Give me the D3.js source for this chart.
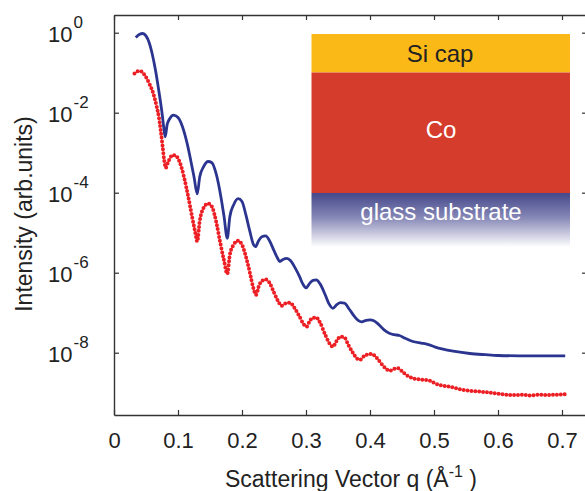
<!DOCTYPE html>
<html>
<head>
<meta charset="utf-8">
<script src="https://cdn.jsdelivr.net/npm/d3@7"></script>
<style>
  body { margin: 0; background: #fff; }
  text { font-family: "Liberation Sans", Arial, sans-serif; fill: #222; }
</style>
</head>
<body>
<div id="chart"></div>
<script>
// blue = simulated curve, red = measured (dotted); intensities kept as log10 values
var qBlue = [0.034,0.040,0.045,0.050,0.055,0.060,0.065,0.070,0.075,0.078,0.080,0.083,0.087,0.093,0.100,0.107,0.114,0.120,0.125,0.130,
  0.134,0.140,0.147,0.153,0.160,0.167,0.172,0.177,0.181,0.187,0.194,0.200,0.206,0.212,0.218,0.221,0.226,0.231,0.237,0.243,
  0.250,0.255,0.259,0.264,0.270,0.276,0.283,0.290,0.295,0.300,0.306,0.311,0.316,0.322,0.330,0.336,0.342,0.348,0.354,0.360,
  0.368,0.376,0.382,0.387,0.394,0.400,0.406,0.414,0.422,0.431,0.438,0.446,0.455,0.467,0.480,0.490,0.502,0.514,0.530,0.556,
  0.580,0.600,0.650,0.705];
var logBlue = [-0.12,-0.04,-0.02,-0.08,-0.25,-0.55,-0.95,-1.45,-2.0,-2.4,-2.6,-2.3,-2.15,-2.06,-2.12,-2.35,-2.75,-3.2,-3.6,-4.03,
  -3.6,-3.35,-3.22,-3.25,-3.55,-4.1,-4.6,-5.14,-4.6,-4.3,-4.15,-4.22,-4.55,-4.95,-5.3,-5.35,-5.2,-5.1,-5.08,-5.2,
  -5.45,-5.62,-5.72,-5.67,-5.64,-5.7,-5.88,-6.1,-6.28,-6.38,-6.26,-6.19,-6.18,-6.28,-6.55,-6.78,-6.89,-6.8,-6.75,-6.76,
  -6.92,-7.1,-7.2,-7.23,-7.19,-7.18,-7.2,-7.3,-7.43,-7.52,-7.55,-7.57,-7.64,-7.72,-7.76,-7.79,-7.86,-7.91,-7.96,-8.02,
  -8.05,-8.07,-8.08,-8.08];

var qRed = [0.032,0.036,0.041,0.046,0.051,0.056,0.061,0.066,0.070,0.073,0.076,0.079,0.081,0.083,0.087,0.092,0.097,0.103,0.110,0.116,
  0.122,0.127,0.130,0.134,0.140,0.147,0.153,0.160,0.166,0.172,0.177,0.181,0.187,0.194,0.200,0.207,0.213,0.218,0.222,0.227,
  0.232,0.237,0.243,0.250,0.256,0.262,0.268,0.275,0.282,0.290,0.296,0.301,0.306,0.311,0.316,0.322,0.330,0.336,0.342,0.348,
  0.354,0.360,0.366,0.374,0.380,0.384,0.392,0.402,0.410,0.418,0.425,0.431,0.438,0.444,0.451,0.457,0.467,0.480,0.493,0.502,
  0.509,0.525,0.545,0.571,0.598,0.623,0.640,0.650,0.665,0.676,0.690,0.705];
var logRed = [-1.02,-0.97,-0.96,-1.02,-1.14,-1.30,-1.50,-1.80,-2.10,-2.45,-2.85,-3.25,-3.38,-3.30,-3.15,-3.06,-3.08,-3.25,-3.65,-4.1,
  -4.6,-5.0,-5.22,-4.7,-4.38,-4.27,-4.35,-4.75,-5.25,-5.7,-6.03,-5.55,-5.3,-5.2,-5.3,-5.65,-6.05,-6.4,-6.55,-6.3,
  -6.2,-6.17,-6.25,-6.5,-6.7,-6.83,-6.77,-6.75,-6.88,-7.1,-7.28,-7.35,-7.2,-7.13,-7.12,-7.25,-7.55,-7.75,-7.85,-7.7,
  -7.6,-7.62,-7.8,-8.02,-8.15,-8.18,-8.07,-8.03,-8.12,-8.28,-8.40,-8.45,-8.40,-8.39,-8.48,-8.56,-8.64,-8.67,-8.70,-8.77,
  -8.81,-8.85,-8.93,-8.97,-9.02,-9.06,-9.05,-9.07,-9.05,-9.06,-9.05,-9.04];

var xTicks = [0,0.1,0.2,0.3,0.4,0.5,0.6,0.7];
var yTickExp = [0,-2,-4,-6,-8];
var layerNames = ["Si cap","Co","glass substrate"];

var W = 585, H = 491;
var pL = 114, pR = 587, pT = 15, pB = 415;

var svg = d3.select("#chart").append("svg")
  .attr("width", W)
  .attr("height", H);

var x = d3.scaleLinear().domain([0, (pR-pL)/640]).range([pL, pR]);
var y = d3.scaleLog().domain([Math.pow(10,-9.5575), Math.pow(10,0.4425)]).range([pB, pT]);

var defs = svg.append("defs");
var grad = defs.append("linearGradient").attr("id","glass")
  .attr("x1",0).attr("y1",0).attr("x2",0).attr("y2",1);
grad.append("stop").attr("offset","0%").attr("stop-color","#45488a");
grad.append("stop").attr("offset","45%").attr("stop-color","#8587b6");
grad.append("stop").attr("offset","100%").attr("stop-color","#ffffff");

// axes: inward ticks on all four sides
function styleAxis(g){
  g.selectAll("path").attr("stroke","#333").attr("stroke-width",1.4);
  g.selectAll("line").attr("stroke","#333").attr("stroke-width",1.2);
}
var xb = svg.append("g").attr("transform","translate(0,"+pB+")")
  .call(d3.axisBottom(x).tickValues(xTicks).tickSize(-5).tickSizeOuter(0).tickPadding(17).tickFormat(function(d){ return d; }));
xb.selectAll("text").style("font-size","22px").attr("fill","#222");
styleAxis(xb);
var xt = svg.append("g").attr("transform","translate(0,"+pT+")")
  .call(d3.axisTop(x).tickValues(xTicks).tickSize(-5).tickSizeOuter(0).tickFormat(""));
styleAxis(xt);
var yl = svg.append("g").attr("transform","translate("+pL+",0)")
  .call(d3.axisLeft(y).tickValues(yTickExp.map(function(e){ return Math.pow(10,e); })).tickSize(-5).tickSizeOuter(0).tickFormat(""));
styleAxis(yl);
var yr = svg.append("g").attr("transform","translate("+pR+",0)")
  .call(d3.axisRight(y).tickValues(yTickExp.map(function(e){ return Math.pow(10,e); })).tickSize(-5).tickSizeOuter(0).tickFormat(""));
styleAxis(yr);

// y tick labels 10^n
yTickExp.forEach(function(e){
  var t = svg.append("text")
    .attr("x",48)
    .attr("y",y(Math.pow(10,e))+9)
    .style("font-size","22px");
  t.append("tspan").text("10");
  t.append("tspan").attr("dy",-13.5).attr("dx",1).style("font-size","17px").text(e===0 ? "0" : "-"+(-e));
});

// axis titles
svg.append("text")
  .attr("transform","translate(32,214) rotate(-90)")
  .attr("text-anchor","middle")
  .style("font-size","23px")
  .text("Intensity (arb.units)");
var xl = svg.append("text")
  .attr("x",351).attr("y",487)
  .attr("text-anchor","middle")
  .style("font-size","23px");
xl.append("tspan").text("Scattering Vector q (Å");
xl.append("tspan").attr("dy",-10).style("font-size","16px").text("-1");
xl.append("tspan").attr("dy",10).text(" )");

// layer sketch
var bx = 311.5, bw = 258.5;
svg.append("rect").attr("x",bx).attr("y",34).attr("width",bw).attr("height",38.5).attr("fill","#fbb918");
svg.append("rect").attr("x",bx).attr("y",72.5).attr("width",bw).attr("height",120.5).attr("fill","#d63c2c");
svg.append("rect").attr("x",bx).attr("y",193).attr("width",bw).attr("height",54).attr("fill","url(#glass)");
svg.append("text").attr("x",440).attr("y",62).attr("text-anchor","middle").style("font-size","24px").text(layerNames[0]);
svg.append("text").attr("x",441).attr("y",138).attr("text-anchor","middle").style("font-size","24px").style("fill","#fff").text(layerNames[1]);
svg.append("text").attr("x",441).attr("y",220).attr("text-anchor","middle").style("font-size","24px").style("fill","#fff").text(layerNames[2]);

// curves
var line = d3.line()
  .x(function(d){ return x(d[0]); })
  .y(function(d){ return y(Math.pow(10,d[1])); })
  .curve(d3.curveMonotoneX);

svg.append("path")
  .datum(d3.zip(qRed, logRed))
  .attr("d", line)
  .attr("fill","none")
  .attr("stroke","#ec1f24")
  .attr("stroke-width",4)
  .attr("stroke-linecap","round")
  .attr("stroke-dasharray","0,3.9");

svg.append("path")
  .datum(d3.zip(qBlue, logBlue))
  .attr("d", line)
  .attr("fill","none")
  .attr("stroke","#2b3590")
  .attr("stroke-width",2.8);
</script>
</body>
</html>
